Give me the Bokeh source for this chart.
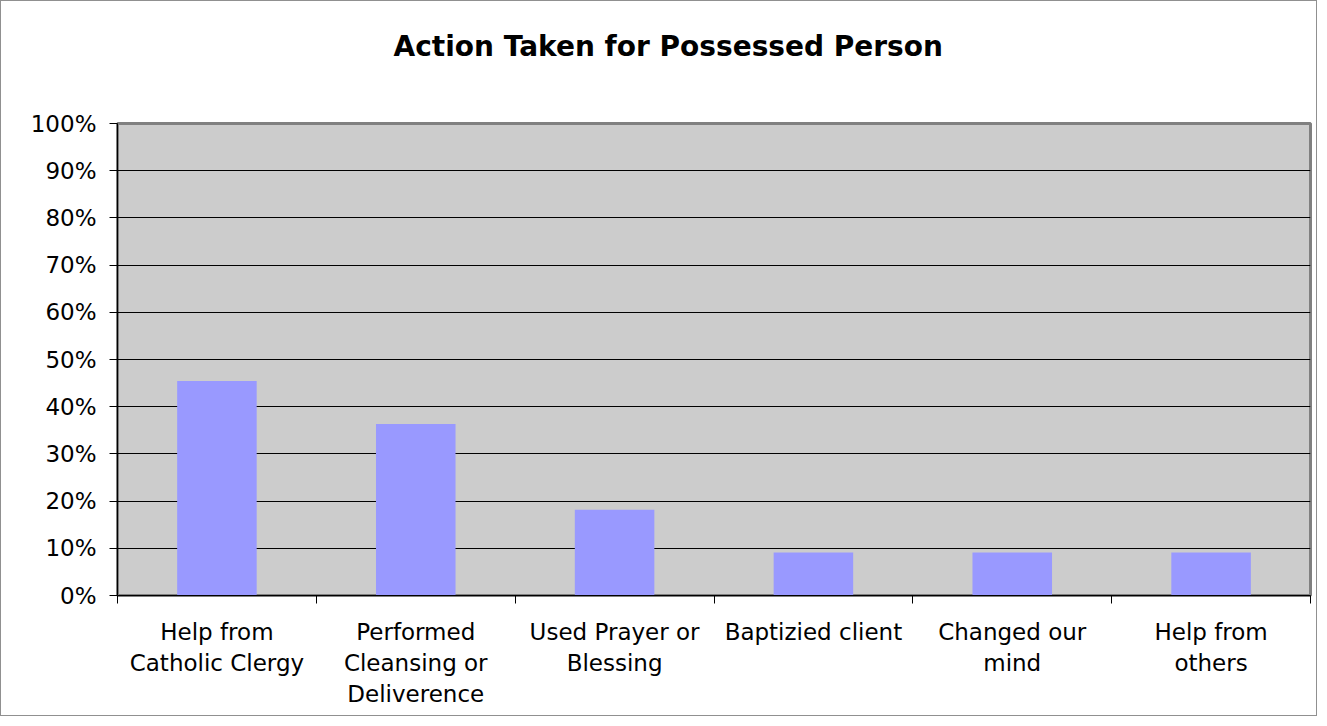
from bokeh.plotting import figure
from bokeh.models import (ColumnDataSource, FixedTicker, NumeralTickFormatter,
                          Range1d, Title)
from bokeh.embed import file_html
from bokeh.resources import INLINE

title_text = "Action Taken for Possessed Person"
categories = ["Help from\nCatholic Clergy", "Performed\nCleansing or\nDeliverence",
              "Used Prayer or\nBlessing", "Baptizied client", "Changed our\nmind",
              "Help from\nothers"]
values_pct = [45.45, 36.36, 18.18, 9.09, 9.09, 9.09]
y_ticks = [0, 0.1, 0.2, 0.3, 0.4, 0.5, 0.6, 0.7, 0.8, 0.9, 1.0]

FONT = "DejaVu Sans"

n = len(categories)
centers = [i + 0.5 for i in range(n)]
source = ColumnDataSource(dict(x=centers, top=[v / 100 for v in values_pct]))

p = figure(width=1317, height=716, output_backend="svg", toolbar_location=None,
           x_range=Range1d(0, n), y_range=Range1d(0, 1),
           min_border_left=116, min_border_right=8, min_border_top=122,
           min_border_bottom=122)
p.styles = {"border": "1px solid #909090"}

p.title.text = ""
p.title.text_font_size = "1px"
p.title.standoff = 0

# spacer between frame and title, then the title itself (outermost)
p.add_layout(Title(text=" ", text_font=FONT, text_font_size="28px", standoff=26),
             "above")
p.add_layout(Title(text=title_text, align="left", offset=276, standoff=0,
                   text_font=FONT, text_font_size="28px", text_font_style="bold",
                   text_color="black"), "above")

p.background_fill_color = "#CCCCCC"
p.border_fill_color = "white"
p.outline_line_color = "#808080"
p.outline_line_width = 3

p.vbar(x="x", top="top", bottom=0, width=0.4, source=source,
       fill_color="#9999FF", line_color=None)

# y axis
p.yaxis.ticker = FixedTicker(ticks=y_ticks)
p.yaxis.formatter = NumeralTickFormatter(format="0%")
p.yaxis.major_tick_out = 8
p.yaxis.major_tick_in = 0
p.yaxis.minor_tick_line_color = None
p.yaxis.axis_line_color = "black"
p.yaxis.major_tick_line_color = "black"
p.yaxis.major_label_text_font = FONT
p.yaxis.major_label_text_font_size = "23px"
p.yaxis.major_label_text_color = "black"
p.yaxis.major_label_standoff = 13

# x axis: ticks at boundaries (minor), labels at centres (major)
p.xaxis.ticker = FixedTicker(ticks=centers, minor_ticks=list(range(n + 1)))
p.xaxis.major_label_overrides = {c: lab for c, lab in zip(centers, categories)}
p.xaxis.major_tick_out = 0
p.xaxis.major_tick_in = 0
p.xaxis.minor_tick_out = 8
p.xaxis.minor_tick_in = 0
p.xaxis.minor_tick_line_color = "black"
p.xaxis.axis_line_color = "black"
p.xaxis.major_label_text_font = FONT
p.xaxis.major_label_text_font_size = "23px"
p.xaxis.major_label_text_color = "black"
p.xaxis.major_label_standoff = 15

p.xgrid.grid_line_color = None
p.ygrid.ticker = FixedTicker(ticks=y_ticks)
p.ygrid.grid_line_color = "black"
p.ygrid.grid_line_width = 1

open("out.html", "w").write(file_html(p, INLINE))
